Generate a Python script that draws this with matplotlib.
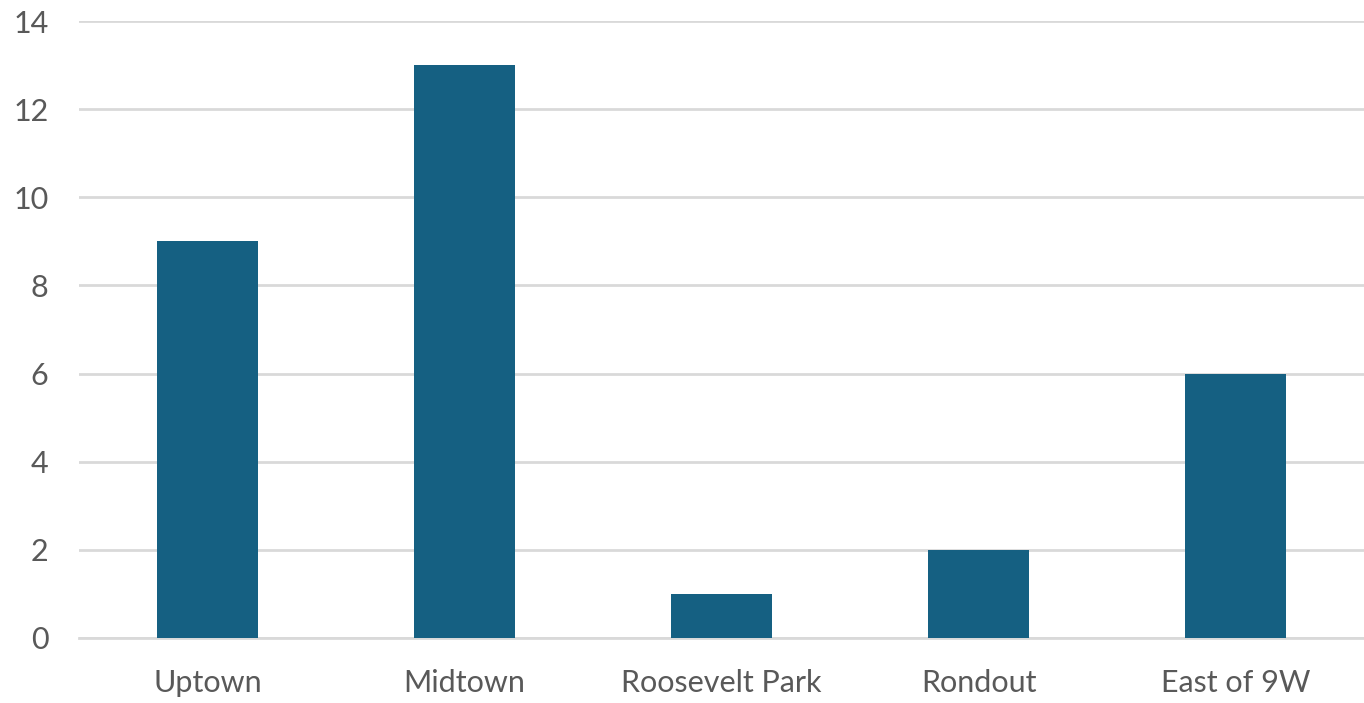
import matplotlib.pyplot as plt
import numpy as np

neighborhoods = ['Uptown', 'Midtown', 'Roosevelt Park', 'Rondout', 'East of 9W']
counts = [9, 13, 1, 2, 6]
yticks = [0, 2, 4, 6, 8, 10, 12, 14]

plt.rcParams['font.family'] = ['Lato', 'DejaVu Sans']

fig = plt.figure(figsize=(13.64, 7.03), dpi=100)
ax = fig.add_axes([0.058, 0.0925, 0.942, 0.8775])

x = np.arange(len(neighborhoods))
ax.bar(x, counts, width=0.395, color='#156082', zorder=3)

ax.set_xlim(-0.5, len(neighborhoods) - 0.5)
ax.set_ylim(0, 14)
ax.set_yticks(yticks)
ax.set_xticks(x)
ax.set_xticklabels(neighborhoods)

ax.grid(axis='y', color='#d9d9d9', linewidth=2, zorder=0)
ax.grid(axis='x', visible=False)
for s in ['top', 'right', 'left']:
    ax.spines[s].set_visible(False)
ax.spines['bottom'].set_color('#d9d9d9')
ax.spines['bottom'].set_linewidth(2)
ax.tick_params(axis='both', length=0, labelsize=22, colors='#595959')
ax.tick_params(axis='y', pad=22)
ax.tick_params(axis='x', pad=22)

fig.savefig('out.png', dpi=100)
